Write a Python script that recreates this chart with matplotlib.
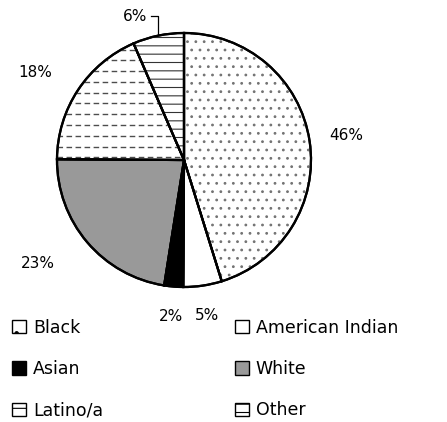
import numpy as np
import matplotlib.pyplot as plt
from matplotlib.patches import Wedge, Patch

plt.rcParams['font.family'] = ['DejaVu Sans']
plt.rcParams['hatch.linewidth'] = 0.8

groups = ['Black', 'American Indian', 'Asian', 'White', 'Latino/a', 'Other']
shares = [45.2, 4.9, 2.4, 22.6, 18.4, 6.5]
pct_labels = ['46%', '5%', '2%', '23%', '18%', '6%']
fills = ['white', 'white', 'black', '#999999', 'white', 'white']
hatches = ['..', '', '', '', 'dash', '--']
hatch_cols = ['0.45', None, None, None, '0.3', '0.2']
label_r = [1.29, 1.24, 1.24, 1.41, 1.36, 1.3]
label_dang = [0, 0, 0, -5, 3, 0]

fig = plt.figure(figsize=(4.47, 4.22), dpi=100)
R = 127
cx, cy = 184, 160
ax = fig.add_axes([(cx - R) / 447, 1 - (cy + R) / 422, 2 * R / 447, 2 * R / 422])

wedges, _ = ax.pie(shares, colors=fills, startangle=90, counterclock=False,
                   radius=1, wedgeprops=dict(edgecolor='black', linewidth=1.6))
ax.set_xlim(-1, 1)
ax.set_ylim(-1, 1)
ax.axis('off')
for w in wedges:
    w.set_zorder(3)
    w.set_clip_on(False)

# hatching overlays (grey hatch under black outlines)
for w, h, hc in zip(wedges, hatches, hatch_cols):
    if not h:
        continue
    if h == 'dash':
        clip = Wedge((0, 0), 1, w.theta1, w.theta2, facecolor='none', linewidth=0)
        ax.add_patch(clip)
        for y in np.arange(-1, 1, 0.085):
            ln, = ax.plot([-1, 1], [y, y], color=hc, lw=1.0, ls=(0, (4, 2.5)), zorder=3.5)
            ln.set_clip_path(clip)
    else:
        ov = Wedge((0, 0), 1, w.theta1, w.theta2, facecolor='none', edgecolor=hc,
                   linewidth=0, hatch=h, zorder=3.5)
        ax.add_patch(ov)

# outlines on top
for w in wedges:
    ol = Wedge((0, 0), 1, w.theta1, w.theta2, facecolor='none', edgecolor='black',
               linewidth=1.6, zorder=4, clip_on=False)
    ax.add_patch(ol)

# percentage labels
for i, (w, lab) in enumerate(zip(wedges, pct_labels)):
    mid = np.deg2rad((w.theta1 + w.theta2) / 2)
    if i == len(wedges) - 1:
        ex, ey = np.cos(mid), np.sin(mid)
        ty = 1.13
        ax.plot([ex, ex, ex - 0.06], [ey, ty, ty], color='black', lw=0.9, clip_on=False)
        ax.text(ex - 0.09, ty, lab, ha='right', va='center', fontsize=11)
        continue
    r = label_r[i]
    a = mid + np.deg2rad(label_dang[i])
    ax.text(r * np.cos(a), r * np.sin(a), lab, ha='center', va='center', fontsize=11)

# legend
handles = []
for g, f, h in zip(groups, fills, hatches):
    hh = '-' if h == 'dash' else ('--' if h == '--' else ('.' if h == '..' else None))
    handles.append(Patch(facecolor=f, edgecolor='black', hatch=hh, linewidth=1, label=g))
order = [0, 2, 4, 1, 3, 5]
fig.legend([handles[i] for i in order], [groups[i] for i in order], ncol=2,
           loc='upper left', bbox_to_anchor=(0.027, 0.245), frameon=False,
           fontsize=12.5, handlelength=0.8, handleheight=0.8, handletextpad=0.4,
           labelspacing=1.35, columnspacing=7.6, borderpad=0, borderaxespad=0)

fig.savefig('out.png', dpi=100)
